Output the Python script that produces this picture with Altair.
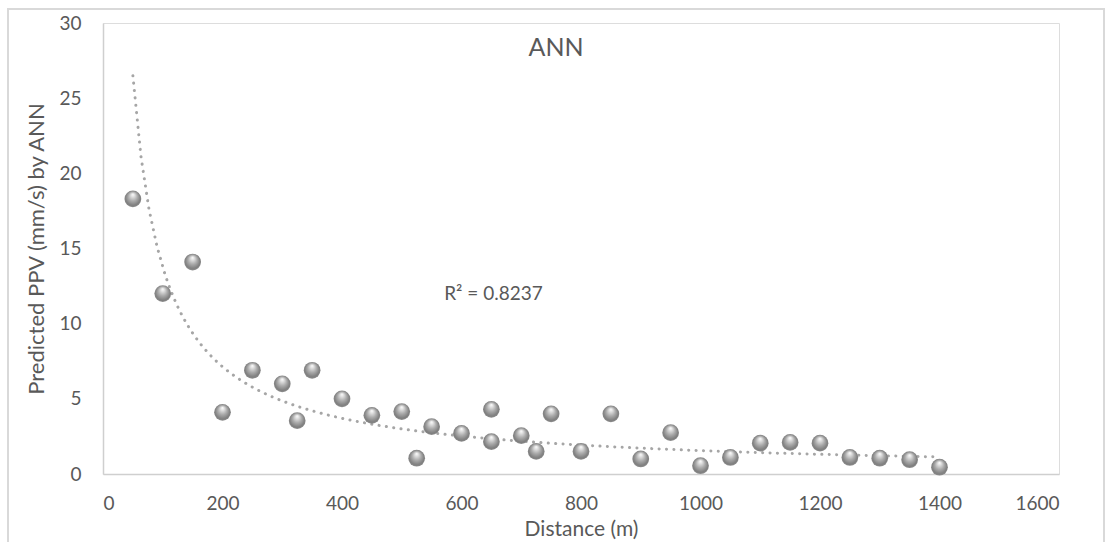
import altair as alt
import pandas as pd

# Data
distance = [50, 100, 150, 200, 250, 300, 325, 350, 400, 450, 500, 525, 550, 600,
            650, 650, 700, 725, 750, 800, 850, 900, 950, 1000, 1050, 1100, 1150,
            1200, 1250, 1300, 1350, 1400]
ppv = [18.3, 12.0, 14.1, 4.1, 6.9, 6.0, 3.55, 6.9, 5.0, 3.9, 4.15, 1.05, 3.15, 2.7,
       4.3, 2.15, 2.55, 1.5, 4.0, 1.5, 4.0, 1.0, 2.75, 0.55, 1.1, 2.05, 2.1,
       2.05, 1.1, 1.05, 0.95, 0.45]
x_ticks = [0, 200, 400, 600, 800, 1000, 1200, 1400, 1600]
y_ticks = [0, 5, 10, 15, 20, 25, 30]
r2_text = ["R\u00b2 = 0.8237"]
r2_x = [571]
r2_y = [12.0]
title_text = ["ANN"]

df = pd.DataFrame({"Distance": distance, "PPV": ppv})
ann = pd.DataFrame({"x": r2_x, "y": r2_y, "label": r2_text})
ttl = pd.DataFrame({"label": title_text})

FONT = "Lato"
TXT = "#595959"
AXC = "#cfcfcf"

x_scale = alt.Scale(domain=[0, 1600], nice=False, zero=True)
y_scale = alt.Scale(domain=[0, 30], nice=False, zero=True)

x_axis = alt.Axis(values=x_ticks, format="d", title="Distance (m)", grid=False, ticks=False,
                  domainColor=AXC, domainWidth=1.5, labelPadding=20,
                  labelFontSize=19, labelColor=TXT, labelFont=FONT,
                  titleFontSize=21, titleColor=TXT, titleFont=FONT,
                  titleFontWeight="normal", titlePadding=5)
y_axis = alt.Axis(values=y_ticks, title="Predicted PPV (mm/s) by ANN", grid=False,
                  ticks=False, domainColor=AXC, domainWidth=1.5, labelPadding=22,
                  labelFontSize=19, labelColor=TXT, labelFont=FONT,
                  titleFontSize=22, titleColor=TXT, titleFont=FONT,
                  titleFontWeight="normal", titlePadding=10)

base = alt.Chart(df)

frame = alt.Chart(ann).mark_rect(fill="transparent", stroke="#d9d9d9", strokeWidth=2).encode(
    x=alt.value(-95), x2=alt.value(1001), y=alt.value(-14), y2=alt.value(600)
)

title = alt.Chart(ttl).mark_text(align="center", baseline="middle", font=FONT,
                                 fontSize=25, color=TXT).encode(
    x=alt.value(453), y=alt.value(25), text="label:N"
)

trend = base.transform_regression("Distance", "PPV", method="pow").mark_line(
    color="#a6a6a6", strokeWidth=3, strokeDash=[0.1, 7.3], strokeCap="round"
).encode(
    x=alt.X("Distance:Q", scale=x_scale, axis=x_axis),
    y=alt.Y("PPV:Q", scale=y_scale, axis=y_axis),
)

ball = alt.RadialGradient(
    gradient="radial",
    x1=0.5, y1=0.22, r1=0.0,
    x2=0.5, y2=0.5, r2=0.55,
    stops=[
        alt.GradientStop(offset=0.0, color="#ffffff"),
        alt.GradientStop(offset=0.18, color="#e2e2e2"),
        alt.GradientStop(offset=0.5, color="#aaaaaa"),
        alt.GradientStop(offset=0.82, color="#7d7d7d"),
        alt.GradientStop(offset=1.0, color="#9a9a9a"),
    ],
)

points = base.mark_point(filled=True, fill=ball, size=280, opacity=1, strokeWidth=0).encode(
    x=alt.X("Distance:Q", scale=x_scale, axis=x_axis),
    y=alt.Y("PPV:Q", scale=y_scale, axis=y_axis),
)

r2 = alt.Chart(ann).mark_text(align="left", baseline="middle", font=FONT,
                              fontSize=19, color=TXT).encode(
    x=alt.X("x:Q", scale=x_scale),
    y=alt.Y("y:Q", scale=y_scale),
    text="label:N",
)

chart = alt.layer(frame, title, trend, points, r2).properties(
    width=956, height=451,
    autosize=alt.AutoSizeParams(type="none"),
    padding={"left": 103, "top": 23, "right": 56, "bottom": 68},
).configure_view(stroke=None).configure(background="white")

chart.save("out.html", embed_options={"renderer": "svg", "actions": False})
